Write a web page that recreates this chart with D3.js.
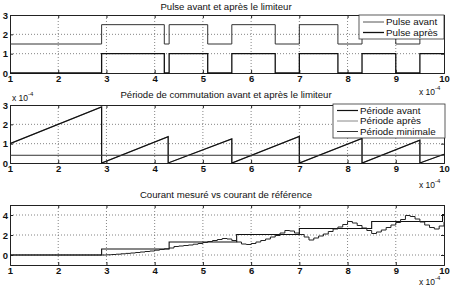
<!doctype html>
<html>
<head>
  <script src="https://d3js.org/d3.v7.min.js"></script>
</head>
<style>
  body { margin: 0; background: #fff; }
  svg text { font-family: "Liberation Sans", Arial, sans-serif; fill: #111; }
  .tick text { font-size: 9.5px; font-weight: bold; }
  .title { font-size: 9.6px; text-anchor: middle; }
  .legend text { font-size: 9.8px; }
  .grid line { stroke: #666; stroke-width: 0.8; stroke-dasharray: 1,2; }
</style>
<body>
<svg></svg>
<script>
  // x in units of 1e-4 s
  const xTicks = [1, 2, 3, 4, 5, 6, 7, 8, 9, 10];

  // panel 1 : pulses (step after)
  const pulseAvant = [[1, 1.5], [2.9, 2.5], [4.2, 1.5], [4.3, 2.5], [5.1, 1.5], [5.6, 2.5], [6.5, 1.5],
    [7.0, 2.5], [7.8, 1.5], [8.3, 2.5], [9.0, 1.5], [9.5, 2.5], [10, 2.5]];
  const pulseApres = [[1, 0], [2.9, 1], [4.2, 0], [4.3, 1], [5.1, 0], [5.6, 1], [6.5, 0],
    [7.0, 1], [7.8, 0], [8.3, 1], [9.0, 0], [9.5, 1], [10, 1]];
  const pulseYTicks = [0, 1, 2, 3];

  // panel 2 : switching period (x 1e-4)
  const periodeAvant = [[1, 1], [2.9, 2.9], [2.9, 0], [4.28, 1.36], [4.28, 0], [5.6, 1.25], [5.6, 0],
    [7.0, 1.38], [7.0, 0], [8.3, 1.27], [8.3, 0], [9.5, 1.18], [9.5, 0], [10, 0.45]];
  const periodeApres = [[1, 1], [2.9, 2.9], [2.9, 0], [4.28, 1.36], [4.28, 0], [5.6, 1.25], [5.6, 0],
    [7.0, 1.38], [7.0, 0], [8.3, 1.27], [8.3, 0], [9.5, 1.18], [9.5, 0], [10, 0.45]];
  const periodeMin = [[1, 0.4], [10, 0.4]];
  const periodeYTicks = [0, 1, 2, 3];

  // panel 3 : current
  const courantRef = [[1, 0], [2.9, 0.6], [4.3, 1.3], [5.7, 2.05], [7.0, 2.65], [8.5, 3.35], [9.97, 4.05], [10, 4.05]];
  const courantMes = [[1, 0], [2.9, 0], [3.0, 0.02], [3.1, 0.05], [3.2, 0.08], [3.3, 0.12], [3.4, 0.16], [3.5, 0.2],
    [3.6, 0.25], [3.7, 0.3], [3.8, 0.35], [3.9, 0.4], [4.0, 0.48], [4.1, 0.55], [4.2, 0.62], [4.3, 0.7],
    [4.4, 0.85], [4.5, 0.9], [4.6, 0.95], [4.7, 1.0], [4.8, 1.08], [4.9, 1.15], [5.0, 1.25], [5.1, 1.35],
    [5.2, 1.45], [5.3, 1.55], [5.4, 1.65], [5.5, 1.6], [5.6, 1.45], [5.7, 1.3], [5.8, 1.1], [5.9, 1.05],
    [6.0, 1.15], [6.1, 1.3], [6.2, 1.45], [6.3, 1.6], [6.4, 1.8], [6.5, 1.95], [6.6, 2.2], [6.7, 2.45],
    [6.8, 2.4], [6.9, 2.2], [7.0, 2.05], [7.1, 1.8], [7.2, 1.5], [7.3, 1.7], [7.4, 1.9], [7.5, 2.1],
    [7.6, 2.35], [7.7, 2.6], [7.8, 2.8], [7.9, 3.05], [8.0, 3.35], [8.1, 3.2], [8.2, 2.95], [8.3, 2.7],
    [8.4, 2.45], [8.5, 2.15], [8.6, 2.3], [8.7, 2.5], [8.8, 2.75], [8.9, 3.0], [9.0, 3.25], [9.1, 3.55],
    [9.2, 3.95], [9.3, 3.85], [9.4, 3.6], [9.5, 3.3], [9.6, 3.0], [9.7, 2.75], [9.8, 2.6], [9.9, 2.9], [10, 3.3]];
  const courantYTicks = [0, 2, 4];

  const W = 474, H = 286;
  const left = 10, right = 444;
  const svg = d3.select("svg").attr("width", W).attr("height", H);
  const x = d3.scaleLinear().domain([1, 10]).range([left, right]);

  const yPulse = d3.scaleLinear().domain([0, 3]).range([73, 15]);
  const yPeriode = d3.scaleLinear().domain([0, 3]).range([163, 105]);
  const yCourant = d3.scaleLinear().domain([-1, 5]).range([265, 205]);

  function drawFrame(y, yTicks, title, titleY) {
    const [b, t] = y.range();
    const g = svg.append("g");
    // grid
    const grid = g.append("g").attr("class", "grid");
    grid.selectAll(".gx").data(xTicks.slice(1, -1)).enter().append("line")
      .attr("x1", d => x(d)).attr("x2", d => x(d)).attr("y1", t).attr("y2", b);
    grid.selectAll(".gy").data(yTicks.filter(d => y(d) > t + 1 && y(d) < b - 1)).enter().append("line")
      .attr("x1", left).attr("x2", right).attr("y1", d => y(d)).attr("y2", d => y(d));
    // axes
    g.append("g").attr("transform", `translate(0,${b})`)
      .call(d3.axisBottom(x).tickValues(xTicks).tickSize(-3).tickPadding(2).tickFormat(d3.format("d")));
    g.append("g").attr("transform", `translate(${left},0)`)
      .call(d3.axisLeft(y).tickValues(yTicks).tickSize(-3).tickPadding(2).tickFormat(d3.format("d")));
    g.append("g").attr("transform", `translate(0,${t})`)
      .call(d3.axisTop(x).tickValues(xTicks).tickSize(-3).tickFormat(""));
    g.append("g").attr("transform", `translate(${right},0)`)
      .call(d3.axisRight(y).tickValues(yTicks).tickSize(-3).tickFormat(""));
    g.selectAll(".domain").attr("stroke", "#222");
    g.selectAll(".tick line").attr("stroke", "#222");
    g.append("text").attr("class", "title").attr("x", 226).attr("y", titleY).text(title);
    return g;
  }

  function expLabel(px, py) {
    const t = svg.append("text").attr("x", px).attr("y", py).style("font-size", "8.5px");
    t.append("tspan").text("x 10");
    t.append("tspan").attr("dy", -5).style("font-size", "6px").text("-4");
  }

  function drawLine(data, y, curve, color, width) {
    svg.append("path").datum(data)
      .attr("fill", "none").attr("stroke", color).attr("stroke-width", width)
      .attr("d", d3.line().x(d => x(d[0])).y(d => y(d[1])).curve(curve));
  }

  function legend(items, bx, by, bw, bh, rowY) {
    const g = svg.append("g").attr("class", "legend");
    g.append("rect").attr("x", bx).attr("y", by).attr("width", bw).attr("height", bh)
      .attr("fill", "#fff").attr("stroke", "#333").attr("stroke-width", 0.8);
    items.forEach((it, i) => {
      g.append("line").attr("x1", bx + 4).attr("x2", bx + 25).attr("y1", rowY[i]).attr("y2", rowY[i])
        .attr("stroke", it.color).attr("stroke-width", it.width);
      g.append("text").attr("x", bx + 27).attr("y", rowY[i]).attr("dy", "0.35em").text(it.label);
    });
  }

  // panel 1
  drawFrame(yPulse, pulseYTicks, "Pulse avant et après le limiteur", 10);
  drawLine(pulseAvant, yPulse, d3.curveStepAfter, "#333", 1);
  drawLine(pulseApres, yPulse, d3.curveStepAfter, "#111", 1.3);
  legend([{label: "Pulse avant", color: "#555", width: 1}, {label: "Pulse après", color: "#111", width: 1.3}],
    359, 15, 85, 24, [22, 32.5]);
  expLabel(419, 95);

  // panel 2
  drawFrame(yPeriode, periodeYTicks, "Période de commutation avant et après le limiteur", 98);
  drawLine(periodeApres, yPeriode, d3.curveLinear, "#888", 1);
  drawLine(periodeAvant, yPeriode, d3.curveLinear, "#111", 1.2);
  drawLine(periodeMin, yPeriode, d3.curveLinear, "#333", 1);
  legend([{label: "Période avant", color: "#111", width: 1.2}, {label: "Période après", color: "#888", width: 1},
    {label: "Période minimale", color: "#333", width: 1}], 333, 104, 112, 34, [110.5, 121, 131.5]);
  expLabel(12, 101);
  expLabel(419, 188);

  // panel 3
  drawFrame(yCourant, courantYTicks, "Courant mesuré vs courant de référence", 198);
  drawLine(courantRef, yCourant, d3.curveStepAfter, "#111", 1.1);
  drawLine(courantMes, yCourant, d3.curveStepAfter, "#222", 1);
  expLabel(419, 285);
</script>
</body>
</html>
